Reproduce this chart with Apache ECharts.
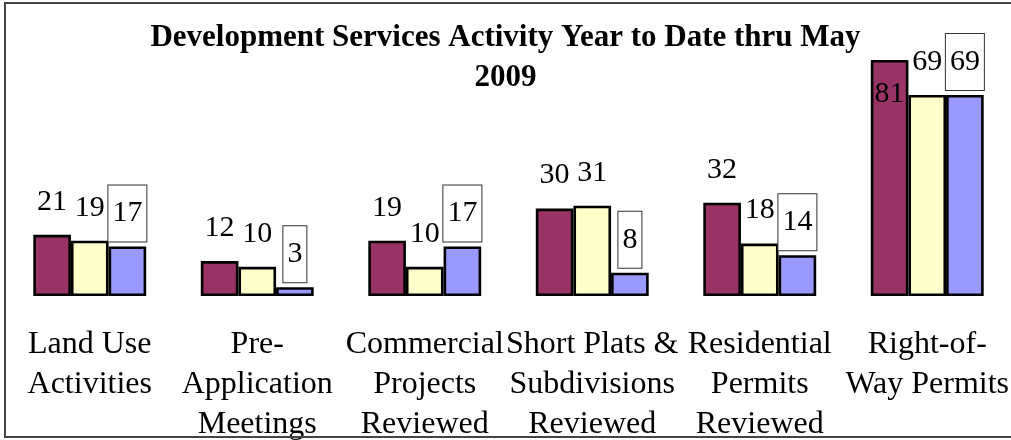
<!DOCTYPE html>
<html>
<head>
<meta charset="utf-8">
<style>
  html, body { margin: 0; padding: 0; background: #fff; }
  #chart { width: 1011px; height: 440px; }
</style>
<script src="https://cdn.jsdelivr.net/npm/echarts@6/dist/echarts.min.js"></script>
</head>
<body>
<div id="chart"></div>
<script>
const categories = [
  "Land Use\nActivities",
  "Pre-\nApplication\nMeetings",
  "Commercial\nProjects\nReviewed",
  "Short Plats &\nSubdivisions\nReviewed",
  "Residential\nPermits\nReviewed",
  "Right-of-\nWay Permits",
];
const series1 = [21, 12, 19, 30, 32, 81];
const series2 = [19, 10, 10, 31, 18, 69];
const series3 = [17, 3, 17, 8, 14, 69];
const yMax = 81;

const FONT = "'Liberation Serif', 'Times New Roman', serif";

// labels sit above the bar; the tallest one has no room and goes inside
function labelled(values) {
  return values.map((v) => {
    const item = { value: v };
    if (v >= yMax) {
      item.label = { position: "insideTop", distance: 6 };
    }
    return item;
  });
}

function makeSeries(name, values, color, boxed) {
  return {
    name: name,
    type: "bar",
    data: labelled(values),
    barGap: "0%",
    barCategoryGap: "32.6%",
    itemStyle: {
      color: color,
      borderColor: "#000",
      borderWidth: 2.6,
    },
    label: {
      show: true,
      position: "top",
      distance: 5,
      fontFamily: FONT,
      fontSize: 30,
      lineHeight: 34,
      color: "#000",
      padding: [11, 4],
      backgroundColor: boxed ? "#fff" : "transparent",
      borderColor: boxed ? "#333" : "transparent",
      borderWidth: boxed ? 1 : 0,
    },
  };
}

const chart = echarts.init(document.getElementById("chart"));

const option = {
  animation: false,
  backgroundColor: "#fff",
  title: {
    text: "Development Services Activity Year to Date thru May\n2009",
    left: "center",
    top: 18,
    padding: [0, 0, 0, 17],
    textStyle: {
      fontFamily: FONT,
      fontWeight: "bold",
      fontSize: 31,
      lineHeight: 40,
      color: "#000",
    },
  },
  grid: {
    left: 6,
    right: 0,
    top: 60,
    bottom: 144,
    outerBoundsMode: "none",
    containLabel: false,
  },
  xAxis: {
    type: "category",
    data: categories,
    axisLine: { show: false },
    axisTick: { show: false },
    axisLabel: {
      interval: 0,
      margin: 29,
      fontFamily: FONT,
      fontSize: 32,
      lineHeight: 40,
      color: "#000",
    },
  },
  yAxis: {
    type: "value",
    min: 0,
    max: yMax,
    show: false,
    splitLine: { show: false },
  },
  series: [
    makeSeries("s1", series1, "#993366", false),
    makeSeries("s2", series2, "#FFFFCC", false),
    makeSeries("s3", series3, "#9999FF", true),
  ],
  graphic: [
    {
      type: "rect",
      shape: { x: 5, y: 3, width: 1100, height: 434 },
      style: { fill: "none", stroke: "#444", lineWidth: 2 },
      z: 100,
    },
  ],
};

chart.setOption(option);
</script>
</body>
</html>
